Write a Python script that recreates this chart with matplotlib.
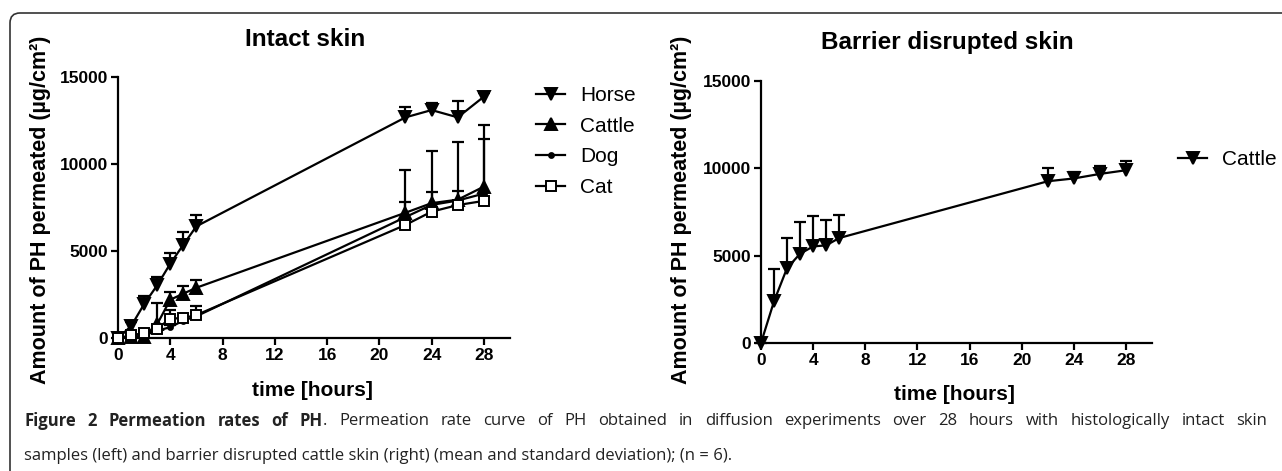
import numpy as np
import matplotlib
matplotlib.use('Agg')
import matplotlib.pyplot as plt
from matplotlib.patches import FancyBboxPatch

plt.rcParams['font.family'] = ['Liberation Sans', 'DejaVu Sans']

# sampling times (hours)
t = np.array([0, 1, 2, 3, 4, 5, 6, 22, 24, 26, 28])

# intact skin, mean and SD (ug/cm2)
horse = np.array([0, 680, 1950, 3030, 4270, 5360, 6420, 12680, 13100, 12680, 13870])
horse_sd = np.array([0, 250, 450, 450, 630, 730, 670, 580, 430, 960, 200])
cattle = np.array([0, 50, 30, 800, 2200, 2550, 2890, 7200, 7750, 7950, 8700])
cattle_sd = np.array([0, 40, 60, 1200, 440, 420, 460, 2450, 3000, 3300, 3550])
dog = np.array([0, 60, 150, 420, 620, 1000, 1250, 6950, 7650, 7900, 8300])
dog_sd = np.array([0, 30, 60, 150, 150, 150, 200, 880, 720, 530, 3160])
cat = np.array([0, 150, 290, 540, 1110, 1150, 1320, 6500, 7260, 7640, 7880])
cat_sd = np.array([0, 80, 100, 150, 500, 250, 500, 200, 200, 200, 200])

# barrier disrupted cattle skin
cattle_bd = np.array([0, 2390, 4290, 5110, 5530, 5590, 6010, 9260, 9420, 9680, 9890])
cattle_bd_sd = np.array([0, 1850, 1720, 1820, 1760, 1430, 1300, 770, 360, 440, 520])

W, H = 1282, 471
fig = plt.figure(figsize=(W / 100, H / 100), dpi=100)

# frame around the figure
frame = FancyBboxPatch((0.10, -0.6), 13.5, 4.58 + 0.6,
                       boxstyle='round,pad=0,rounding_size=0.1',
                       transform=fig.dpi_scale_trans, fill=False,
                       edgecolor='#333333', linewidth=1.2, clip_on=False)
fig.patches.append(frame)


def px_axes(x0, x1, y0, y1):
    return fig.add_axes([x0 / W, 1 - y1 / H, (x1 - x0) / W, (y1 - y0) / H])


def style(ax):
    ax.set_xlim(0, 30)
    ax.set_ylim(0, 15000)
    ax.set_xticks([0, 4, 8, 12, 16, 20, 24, 28])
    ax.set_yticks([0, 5000, 10000, 15000])
    for s in ['top', 'right']:
        ax.spines[s].set_visible(False)
    for s in ['left', 'bottom']:
        ax.spines[s].set_linewidth(1.6)
    ax.tick_params(width=1.6, length=5, labelsize=12.5, pad=2)
    for lab in ax.get_xticklabels() + ax.get_yticklabels():
        lab.set_fontweight('bold')
    ax.patch.set_visible(False)


def series(ax, y, sd, marker, ms, mfc, label):
    ax.vlines(t, y, y + sd, color='black', lw=1.6, clip_on=False)
    ax.plot(t, y + sd, ls='none', marker='_', ms=8, mew=1.6, color='black', clip_on=False)
    line, = ax.plot(t, y, color='black', lw=1.6, marker=marker, ms=ms,
                    mfc=mfc, mec='black', mew=1.4, clip_on=False, label=label, zorder=3)
    return line


leg_kw = dict(loc='upper left', bbox_transform=fig.transFigure, frameon=False,
              fontsize=15, handlelength=1.4, handletextpad=0.7, labelspacing=0.56,
              borderpad=0, borderaxespad=0, numpoints=1)

ax1 = px_axes(118, 510, 77, 338)
style(ax1)
h = [series(ax1, horse, horse_sd, 'v', 8, 'black', 'Horse'),
     series(ax1, cattle, cattle_sd, '^', 8, 'black', 'Cattle'),
     series(ax1, dog, dog_sd, 'o', 3.5, 'black', 'Dog'),
     series(ax1, cat, cat_sd, 's', 7, 'white', 'Cat')]
ax1.legend(handles=h, bbox_to_anchor=(536 / W, 1 - 86 / H), **leg_kw)

ax2 = px_axes(761, 1152, 81, 343)
style(ax2)
h2 = series(ax2, cattle_bd, cattle_bd_sd, 'v', 8, 'black', 'Cattle')
ax2.legend(handles=[h2], bbox_to_anchor=(1178 / W, 1 - 150 / H), **leg_kw)

ylab = 'Amount of PH permeated (µg/cm²)'
for xc in (41, 681):
    fig.text(xc / W, 1 - 210 / H, ylab, rotation=90, ha='center', va='center',
             fontsize=15.5, fontweight='bold')
fig.text(305 / W, 1 - 39 / H, 'Intact skin', ha='center', va='center',
         fontsize=17.5, fontweight='bold')
fig.text(947 / W, 1 - 43 / H, 'Barrier disrupted skin', ha='center', va='center',
         fontsize=17.5, fontweight='bold')
fig.text(312 / W, 1 - 390 / H, 'time [hours]', ha='center', va='center',
         fontsize=15, fontweight='bold')
fig.text(954 / W, 1 - 394 / H, 'time [hours]', ha='center', va='center',
         fontsize=15, fontweight='bold')

# caption, first line justified
cap_kw = dict(fontsize=12, family=['Open Sans', 'DejaVu Sans'], color='#222222', va='center')
bold_words = ['Figure', '2', 'Permeation', 'rates', 'of', 'PH']
line1_words = ('. Permeation rate curve of PH obtained in diffusion experiments over '
               '28 hours with histologically intact skin').split(' ')
tokens = [(w, 'bold', True) for w in bold_words]
tokens += [(line1_words[0], 'normal', False)]  # period sticks to PH
tokens += [(w, 'normal', True) for w in line1_words[1:] if w]
objs = [fig.text(0, 1 - 421 / H, w, fontweight=fw, **cap_kw) for w, fw, _ in tokens]
fig.canvas.draw()
widths = [o.get_window_extent().width for o in objs]
n_gaps = sum(1 for tok in tokens[1:] if tok[2])
gap = (1267 - 24 - sum(widths)) / n_gaps
x = 24
for i, (o, wd) in enumerate(zip(objs, widths)):
    if i > 0 and tokens[i][2]:
        x += gap
    o.set_x(x / W)
    x += wd
fig.text(24 / W, 1 - 456 / H,
         'samples (left) and barrier disrupted cattle skin (right) (mean and standard '
         'deviation); (n = 6).', **cap_kw)

fig.savefig('out.png', dpi=100)
